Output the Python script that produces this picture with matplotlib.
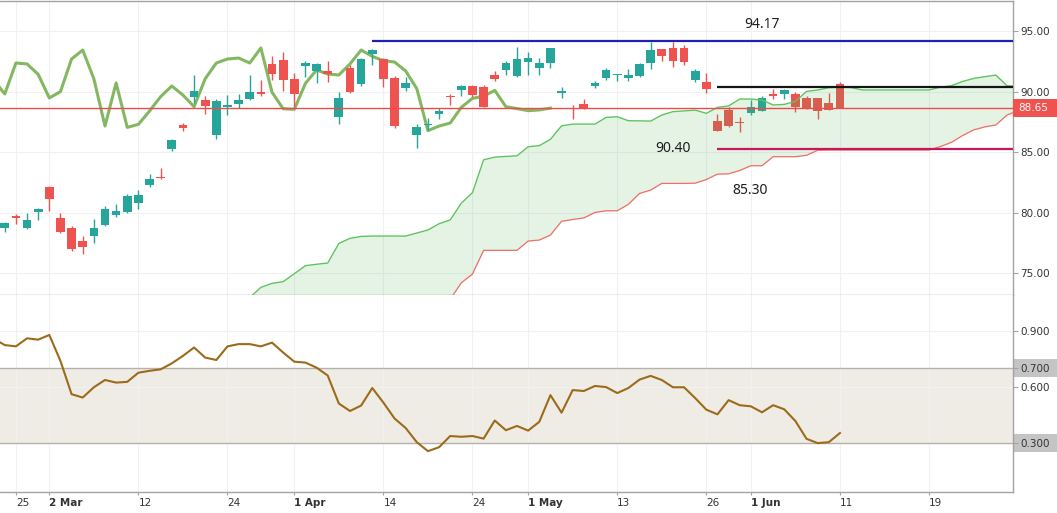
import numpy as np
import matplotlib.pyplot as plt
from matplotlib.patches import Rectangle
from matplotlib.transforms import blended_transform_factory

# daily candles, bar index 0 is the first visible bar (late Feb)
opens = [78.77, 79.74, 78.77, 80.07, 82.13, 79.57, 78.74, 77.67, 78.08, 78.99,
         79.82, 80.07, 80.83, 82.30, 82.99, 85.30, 87.26, 89.57, 89.32, 86.43,
         88.78, 88.99, 89.40, 90.01, 92.30, 92.63, 91.06, 92.16, 91.75, 91.69,
         87.94, 91.97, 90.67, 93.12, 92.71, 91.14, 90.34, 86.46, 87.29, 88.19,
         89.65, 90.17, 90.48, 90.39, 91.39, 91.83, 91.33, 92.46, 91.99, 92.38,
         89.94, 88.69, 88.99, 90.50, 91.14, 91.42, 91.11, 91.31, 92.41, 93.51,
         93.62, 93.62, 90.98, 90.84, 87.59, 88.50, 87.48, 88.28, 88.44, 89.82,
         89.82, 89.82, 89.46, 89.46, 89.04, 90.62]
highs = [79.26, 79.87, 79.98, 80.37, 82.24, 79.98, 78.91, 78.08, 79.46, 80.56,
         80.76, 81.55, 81.88, 83.21, 83.70, 86.13, 87.42, 91.39, 89.65, 89.40,
         89.74, 89.82, 91.39, 90.98, 92.96, 93.29, 91.53, 92.55, 92.35, 92.55,
         89.98, 92.21, 92.82, 93.54, 92.82, 91.30, 91.22, 87.34, 87.81, 88.63,
         89.82, 90.56, 90.56, 90.56, 91.72, 92.55, 93.70, 93.29, 92.79, 93.62,
         90.42, 88.91, 89.40, 90.89, 91.97, 91.50, 91.86, 92.35, 94.14, 93.56,
         94.14, 93.87, 91.88, 91.58, 88.17, 88.71, 87.89, 89.32, 89.63, 90.23,
         90.23, 89.98, 89.65, 89.46, 89.87, 90.79]
lows = [78.39, 79.10, 78.66, 79.44, 80.15, 78.31, 76.87, 76.62, 77.53, 78.91,
        79.65, 79.98, 80.31, 82.16, 82.79, 85.11, 86.76, 89.05, 88.17, 86.10,
        88.08, 88.66, 89.32, 89.65, 90.98, 90.07, 88.77, 91.22, 90.76, 90.81,
        87.37, 89.93, 90.51, 92.24, 90.37, 87.01, 90.07, 85.38, 86.84, 87.75,
        88.91, 89.68, 89.54, 88.71, 90.89, 91.39, 91.22, 91.42, 91.42, 91.99,
        89.46, 87.75, 88.55, 90.31, 90.98, 90.92, 90.89, 91.25, 91.91, 92.57,
        92.08, 92.24, 90.81, 89.93, 86.79, 87.12, 86.71, 88.11, 88.44, 89.38,
        89.43, 88.33, 88.55, 87.75, 88.50, 88.65]
closes = [79.12, 79.60, 79.40, 80.31, 81.14, 78.42, 77.01, 77.18, 78.74, 80.31,
          80.15, 81.39, 81.47, 82.77, 82.88, 86.02, 87.01, 90.07, 88.85, 89.24,
          88.82, 89.32, 89.98, 89.84, 91.50, 90.98, 89.82, 92.38, 92.30, 91.44,
          89.49, 90.01, 92.71, 93.45, 91.08, 87.17, 90.73, 87.06, 87.31, 88.41,
          89.60, 90.48, 89.73, 88.77, 91.08, 92.38, 92.71, 92.79, 92.38, 93.62,
          89.96, 88.60, 88.55, 90.70, 91.80, 91.47, 91.39, 92.30, 93.45, 92.93,
          92.57, 92.46, 91.72, 90.26, 86.79, 87.17, 87.42, 88.72, 89.46, 89.63,
          90.12, 88.77, 88.61, 88.44, 88.50, 88.65]

# lagging line, starts one bar left of the first candle
chikou_start = -1
chikou = [90.98, 89.82, 92.38, 92.30, 91.44, 89.49, 90.01, 92.71, 93.45, 91.08,
          87.17, 90.73, 87.06, 87.31, 88.41, 89.60, 90.48, 89.73, 88.77, 91.08,
          92.38, 92.71, 92.79, 92.38, 93.62, 89.96, 88.60, 88.55, 90.70, 91.80,
          91.47, 91.39, 92.30, 93.45, 92.93, 92.57, 92.46, 91.72, 90.26, 86.79,
          87.17, 87.42, 88.72, 89.46, 89.63, 90.12, 88.77, 88.61, 88.44, 88.50,
          88.65]

# cloud, starts at bar 22 and runs into the future
cloud_start = 22
span_a = [73.00, 73.84, 74.17, 74.31, 74.97, 75.63, 75.75, 75.85, 77.47, 77.89,
          78.05, 78.08, 78.08, 78.08, 78.08, 78.33, 78.58, 79.10, 79.41, 80.80,
          81.67, 84.38, 84.60, 84.66, 84.71, 85.46, 85.55, 86.07, 87.19, 87.33,
          87.33, 87.33, 87.88, 87.94, 87.61, 87.60, 87.58, 88.08, 88.36, 88.42,
          88.49, 88.22, 88.71, 88.83, 89.40, 89.40, 89.32, 88.91, 88.96, 89.21,
          90.03, 90.15, 90.34, 90.40, 90.35, 90.15, 90.15, 90.15, 90.15, 90.15,
          90.15, 90.15, 90.38, 90.50, 90.85, 91.10, 91.25, 91.38, 90.50, 90.45]
span_b = [72.30, 72.30, 72.30, 72.30, 72.30, 72.30, 72.30, 72.30, 72.30, 72.30,
          72.30, 72.30, 72.30, 72.30, 72.30, 72.30, 72.30, 72.30, 72.85, 74.22,
          74.94, 76.90, 76.90, 76.90, 76.90, 77.67, 77.75, 78.16, 79.30, 79.45,
          79.58, 80.03, 80.17, 80.17, 80.70, 81.60, 81.88, 82.43, 82.43, 82.43,
          82.45, 82.75, 83.20, 83.22, 83.50, 83.89, 83.89, 84.64, 84.64, 84.64,
          84.75, 85.17, 85.19, 85.19, 85.19, 85.19, 85.19, 85.19, 85.19, 85.19,
          85.19, 85.19, 85.47, 85.82, 86.38, 86.85, 87.10, 87.26, 88.08, 88.45]

# lower pane oscillator, starts one bar left of the first candle
osc_start = -1
osc = [0.859, 0.825, 0.818, 0.861, 0.854, 0.879, 0.740, 0.562, 0.544, 0.599,
       0.638, 0.624, 0.628, 0.677, 0.687, 0.695, 0.727, 0.767, 0.812, 0.758,
       0.745, 0.818, 0.830, 0.830, 0.818, 0.838, 0.785, 0.736, 0.731, 0.704,
       0.662, 0.512, 0.472, 0.501, 0.595, 0.517, 0.432, 0.381, 0.305, 0.257,
       0.278, 0.338, 0.334, 0.338, 0.324, 0.421, 0.369, 0.392, 0.367, 0.414,
       0.557, 0.463, 0.584, 0.579, 0.606, 0.600, 0.568, 0.595, 0.640, 0.660,
       0.638, 0.599, 0.599, 0.541, 0.479, 0.454, 0.530, 0.503, 0.497, 0.465,
       0.503, 0.481, 0.418, 0.323, 0.300, 0.305, 0.354]

# levels
last_price = 88.65
level_top = 94.17
level_mid = 90.40
level_low = 85.30
level_top_from = 33
level_mid_from = 64

tick_pos = [1, 4, 12, 20, 26, 34, 42, 47, 55, 63, 67, 75, 83]
tick_lab = ['25', '2 Mar', '12', '24', '1 Apr', '14', '24', '1 May', '13',
            '26', '1 Jun', '11', '19']
month_labels = {'2 Mar', '1 Apr', '1 May', '1 Jun'}

UP = '#26a69a'
DOWN = '#ef5350'
GRID = '#f1f1f1'
FRAME = '#a3a3a3'
TXT = '#333333'

o = np.array(opens)
h = np.array(highs)
l = np.array(lows)
c = np.array(closes)
x = np.arange(len(c))
colors = [UP if cc >= oo else DOWN for oo, cc in zip(o, c)]

fig = plt.figure(figsize=(10.57, 5.13), dpi=100)
ax1 = fig.add_axes([0, 0.4259, 0.9587, 0.5721])
ax2 = fig.add_axes([0, 0.0409, 0.9587, 0.3850], sharex=ax1)

# upper pane
ax1.plot(np.arange(len(chikou)) + chikou_start, chikou, color='#76b051',
         lw=2.2, alpha=0.9, zorder=2.5, solid_joinstyle='round')
ax1.vlines(x, l, h, colors=colors, lw=1.0, zorder=2.9)
body = np.maximum(np.abs(c - o), 0.09)
ax1.bar(x, body, bottom=np.minimum(o, c), width=0.78, color=colors,
        zorder=3, lw=0)

cx = np.arange(len(span_a)) + cloud_start
ax1.fill_between(cx, span_a, span_b, color='#4caf50', alpha=0.15, lw=0,
                 zorder=4)
ax1.plot(cx, span_a, color='#5dc55d', lw=1.0, zorder=4.1)
ax1.plot(cx, span_b, color='#ee6f6a', lw=0.9, zorder=4.1)

ax1.axhline(last_price, color='#f04a4a', lw=1.0, zorder=5)
ax1.hlines(level_top, level_top_from, 95, color='#1f22b0', lw=1.6, zorder=6)
ax1.hlines(level_mid, level_mid_from, 95, color='#151515', lw=1.6, zorder=6)
ax1.hlines(level_low, level_mid_from, 95, color='#c8175e', lw=1.6, zorder=6)

lab_kw = dict(fontsize=10, family='Noto Sans', fontweight='semibold',
              color='#1e1e1e', ha='center', va='center', zorder=7)
ax1.text(67.95, 95.52, f'{level_top:.2f}', **lab_kw)
ax1.text(60.0, 85.31, f'{level_mid:.2f}', **lab_kw)
ax1.text(66.97, 81.88, f'{level_low:.2f}', **lab_kw)

ax1.set_ylim(73.25, 97.5)
ax1.yaxis.tick_right()
ax1.set_yticks([75, 80, 85, 90, 95])
ax1.set_yticklabels([f'{v:.2f}' for v in [75, 80, 85, 90, 95]])
ax1.tick_params(axis='y', length=3.5, width=0.8, color=FRAME, labelsize=7.5,
                labelcolor=TXT, pad=1.5)
ax1.tick_params(axis='x', bottom=False, labelbottom=False)
ax1.grid(True, color=GRID, lw=0.8, zorder=0)
ax1.set_axisbelow(True)

tr1 = blended_transform_factory(ax1.transAxes, ax1.transData)
ax1.add_patch(Rectangle((1.0, last_price - 0.75), 0.0431, 1.5, transform=tr1,
                        color=DOWN, clip_on=False, zorder=10, lw=0))
ax1.text(1.0045, last_price, f'{last_price:.2f}', transform=tr1,
         color='white', fontsize=7.5, ha='left', va='center',
         clip_on=False, zorder=11)

# lower pane
ax2.axhspan(0.3, 0.7, color='#efece6', lw=0, zorder=0.5)
ax2.axhline(0.7, color='#b5b2ac', lw=1.0, zorder=1)
ax2.axhline(0.3, color='#b5b2ac', lw=1.0, zorder=1)
ax2.plot(np.arange(len(osc)) + osc_start, osc, color='#9c6b19', lw=1.5,
         zorder=3)

ax2.set_ylim(0.0382, 1.0956)
ax2.yaxis.tick_right()
ax2.set_yticks([0.3, 0.6, 0.7, 0.9])
ax2.set_yticklabels(['0.300', '0.600', '0.700', '0.900'])
ax2.tick_params(axis='y', length=3.5, width=0.8, color=FRAME, labelsize=7.5,
                labelcolor=TXT, pad=1.5)
ax2.grid(True, color=GRID, lw=0.8, zorder=0)
ax2.set_axisbelow(True)

tr2 = blended_transform_factory(ax2.transAxes, ax2.transData)
for v in (0.7, 0.3):
    ax2.add_patch(Rectangle((1.0, v - 0.048), 0.0431, 0.096, transform=tr2,
                            color='#c4c4c4', clip_on=False, zorder=0.2, lw=0))

ax2.set_xticks(tick_pos)
ax2.set_xticklabels(tick_lab)
ax2.tick_params(axis='x', length=2.5, width=0.8, color=FRAME, labelsize=7.5,
                labelcolor=TXT, pad=2)
for lbl in ax2.get_xticklabels():
    lbl.set_ha('left')
    if lbl.get_text() in month_labels:
        lbl.set_fontweight('bold')

ax1.set_xlim(-0.4275, 90.57)

for ax in (ax1, ax2):
    ax.spines['left'].set_visible(False)
    for s in ('top', 'right', 'bottom'):
        ax.spines[s].set_color(FRAME)
        ax.spines[s].set_linewidth(1.0)
ax2.spines['top'].set_visible(False)

fig.savefig('out.png', dpi=100)
